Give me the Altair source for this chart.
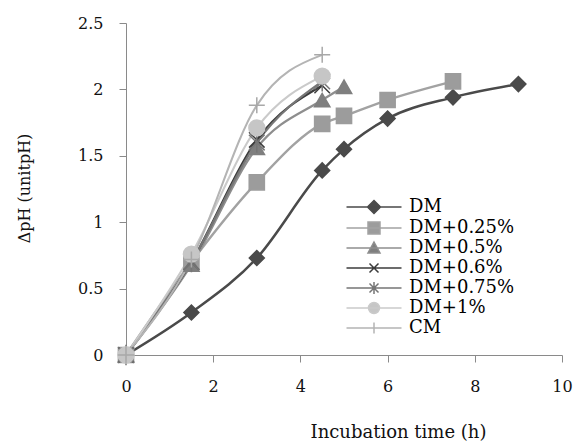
import altair as alt
import pandas as pd

series = ["DM", "DM+0.25%", "DM+0.5%", "DM+0.6%", "DM+0.75%", "DM+1%", "CM"]

time_dm = [0, 1.5, 3, 4.5, 5, 6, 7.5, 9]
ph_dm = [0, 0.32, 0.73, 1.39, 1.55, 1.78, 1.94, 2.04]

time_025 = [0, 1.5, 3, 4.5, 5, 6, 7.5]
ph_025 = [0, 0.70, 1.30, 1.74, 1.80, 1.92, 2.06]

time_05 = [0, 1.5, 3, 4.5, 5]
ph_05 = [0, 0.68, 1.56, 1.92, 2.02]

time_06 = [0, 1.5, 3, 4.5]
ph_06 = [0, 0.70, 1.62, 2.03]

time_075 = [0, 1.5, 3, 4.5]
ph_075 = [0, 0.70, 1.60, 2.06]

time_1 = [0, 1.5, 3, 4.5]
ph_1 = [0, 0.76, 1.71, 2.10]

time_cm = [0, 1.5, 3, 4.5]
ph_cm = [0, 0.72, 1.88, 2.26]

all_times = [time_dm, time_025, time_05, time_06, time_075, time_1, time_cm]
all_ph = [ph_dm, ph_025, ph_05, ph_06, ph_075, ph_1, ph_cm]

rows = []
for name, ts, vs in zip(series, all_times, all_ph):
    for t, v in zip(ts, vs):
        rows.append({"series": name, "time": t, "ph": v})
df = pd.DataFrame(rows)

line_colors = ["#4a4a4a", "#a2a2a2", "#8e8e8e", "#3c3c3c", "#767676", "#cacaca", "#b4b4b4"]
marker_colors = ["#4a4a4a", "#9c9c9c", "#7f7f7f", "#3c3c3c", "#767676", "#c6c6c6", "#a8a8a8"]
line_widths = [2.5, 2, 1.5, 2.5, 2.5, 2, 1.2]
marker_sizes = [225, 256, 190, 144, 144, 225, 196]

X_PATH = "M-1,-1L1,1M-1,1L1,-1"
AST_PATH = "M-1,-1L1,1M-1,1L1,-1M0,-1.3V1.3"
PLUS_PATH = "M-1,0H1M0,-1V1"
marker_shapes = ["diamond", "square", "triangle-up", X_PATH, AST_PATH, "circle", PLUS_PATH]

legend_shapes = [
    "M-2.75,0H2.75M0,-0.65L0.65,0L0,0.65L-0.65,0Z",
    "M-2.75,0H2.75M-0.6,-0.6H0.6V0.6H-0.6Z",
    "M-2.75,0H2.75M0,-0.6L0.6,0.5H-0.6Z",
    "M-2.75,0H2.75M-0.45,-0.45L0.45,0.45M-0.45,0.45L0.45,-0.45",
    "M-2.75,0H2.75M-0.45,-0.45L0.45,0.45M-0.45,0.45L0.45,-0.45M0,-0.6V0.6",
    "M-2.75,0H2.75M0.55,0A0.55,0.55,0,1,1,-0.55,0A0.55,0.55,0,1,1,0.55,0",
    "M-2.75,0H2.75M0,-0.55V0.55",
]

FONT = "DejaVu Serif"

x_enc = alt.X(
    "time:Q",
    scale=alt.Scale(domain=[0, 10], nice=False),
    axis=alt.Axis(
        values=[0, 2, 4, 6, 8, 10],
        title="Incubation time (h)",
        grid=False,
        tickSize=7,
        labelPadding=16,
        labelFlush=False,
        titleX=272,
        titleY=77,
        titleAlign="center",
        titleBaseline="middle",
        titleFontSize=18,
    ),
)
y_enc = alt.Y(
    "ph:Q",
    scale=alt.Scale(domain=[0, 2.5], nice=False),
    axis=alt.Axis(
        values=[0, 0.5, 1, 1.5, 2, 2.5],
        format="~g",
        title="ΔpH (unitpH)",
        grid=False,
        tickSize=7,
        labelPadding=16,
        labelFlush=False,
        titleX=-102,
        titleY=165,
        titleAlign="center",
        titleBaseline="middle",
        titleAngle=270,
        titleFontSize=16,
    ),
)

lines = alt.Chart(df).mark_line(interpolate="monotone").encode(
    x=x_enc,
    y=y_enc,
    color=alt.Color("series:N", scale=alt.Scale(domain=series, range=line_colors), legend=None),
    strokeWidth=alt.StrokeWidth("series:N", scale=alt.Scale(domain=series, range=line_widths), legend=None),
    order=alt.Order("time:Q"),
)

points = alt.Chart(df).mark_point(filled=True, opacity=1, strokeWidth=1.5).encode(
    x=x_enc,
    y=y_enc,
    color=alt.Color("series:N", scale=alt.Scale(domain=series, range=marker_colors), legend=None),
    stroke=alt.Stroke("series:N", scale=alt.Scale(domain=series, range=marker_colors), legend=None),
    shape=alt.Shape("series:N", scale=alt.Scale(domain=series, range=marker_shapes), legend=None),
    size=alt.Size("series:N", scale=alt.Scale(domain=series, range=marker_sizes), legend=None),
)

leg = alt.Legend(
    title=None,
    orient="none",
    legendX=237,
    legendY=173,
    labelFont=FONT,
    labelFontSize=18,
    labelColor="#000000",
    symbolSize=400,
    labelOffset=24,
    rowPadding=0,
    padding=0,
)

legend_layer = alt.Chart(df).mark_point(filled=True, opacity=1, strokeWidth=2).encode(
    color=alt.Color("series:N", scale=alt.Scale(domain=series, range=marker_colors), legend=leg),
    stroke=alt.Stroke("series:N", scale=alt.Scale(domain=series, range=line_colors), legend=leg),
    shape=alt.Shape("series:N", scale=alt.Scale(domain=series, range=legend_shapes), legend=leg),
).transform_filter("false")

chart = (
    alt.layer(lines, points, legend_layer)
    .resolve_scale(color="independent", stroke="independent", shape="independent")
    .properties(
        width=436,
        height=332,
        autosize=alt.AutoSizeParams(type="none"),
        padding={"left": 126, "top": 23, "right": 12, "bottom": 86},
        background="white",
    )
    .configure_view(stroke=None)
    .configure_axis(
        domainColor="#8a8a8a",
        tickColor="#8a8a8a",
        labelFont=FONT,
        labelFontSize=16,
        labelColor="#111111",
        titleFont=FONT,
        titleColor="#111111",
        titleFontWeight="normal",
    )
)

chart.save("out.html", embed_options={"renderer": "svg", "actions": False})
